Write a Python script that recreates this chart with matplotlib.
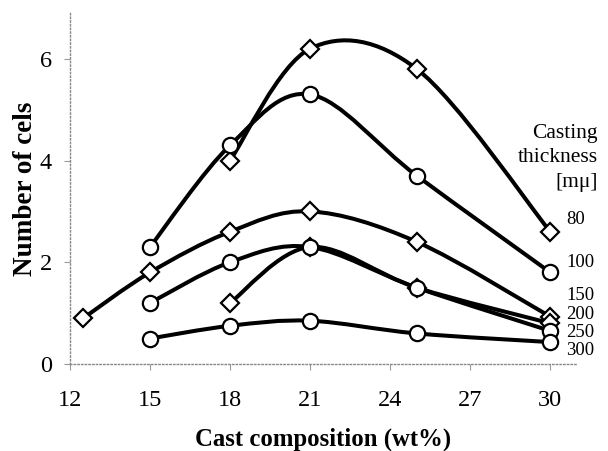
import matplotlib
matplotlib.use("Agg")

import matplotlib.pyplot as plt
import numpy as np
from matplotlib.path import Path
from matplotlib.patches import PathPatch

# Cast composition (wt%) and number of cells, one series per casting thickness
x_80 = [18, 21, 25, 30]
y_80 = [4.0, 6.2, 5.8, 2.6]
x_100 = [15, 18, 21, 25, 30]
y_100 = [2.3, 4.3, 5.3, 3.7, 1.8]
x_150 = [12.5, 15, 18, 21, 25, 30]
y_150 = [0.9, 1.8, 2.6, 3.0, 2.4, 0.93]
x_200 = [15, 18, 21, 25, 30]
y_200 = [1.2, 2.0, 2.3, 1.5, 0.65]
x_250 = [18, 21, 25, 30]
y_250 = [1.2, 2.3, 1.5, 0.8]
x_300 = [15, 18, 21, 25, 30]
y_300 = [0.5, 0.75, 0.85, 0.6, 0.43]

series = [
    (x_80, y_80, "D"),
    (x_100, y_100, "o"),
    (x_150, y_150, "D"),
    (x_200, y_200, "o"),
    (x_250, y_250, "D"),
    (x_300, y_300, "o"),
]
thickness_labels = ["80", "100", "150", "200", "250", "300"]
label_y = [2.85, 2.0, 1.35, 0.98, 0.62, 0.27]

plt.rcParams["font.family"] = ["Liberation Serif", "DejaVu Serif"]


def smooth_path(xs, ys):
    """Excel-like smoothed line: cubic Bezier through the points."""
    pts = np.column_stack([xs, ys]).astype(float)
    n = len(pts)
    verts = [pts[0]]
    codes = [Path.MOVETO]
    for i in range(n - 1):
        p0 = pts[i - 1] if i > 0 else pts[i]
        p1 = pts[i]
        p2 = pts[i + 1]
        p3 = pts[i + 2] if i + 2 < n else pts[i + 1]
        verts += [p1 + (p2 - p0) / 6, p2 - (p3 - p1) / 6, p2]
        codes += [Path.CURVE4] * 3
    return Path(verts, codes)


fig = plt.figure(figsize=(6.08, 4.51), dpi=100)
ax = fig.add_axes([0.115, 0.193, 0.834, 0.778])

for xs, ys, m in series:
    ax.add_patch(PathPatch(smooth_path(xs, ys), fc="none", ec="black",
                           lw=2.9, zorder=2, capstyle="round"))
    if m == "o":
        ax.plot(xs, ys, ls="none", marker="o", ms=11, mfc="white", mec="black",
                mew=1.6, zorder=4)
    else:
        ax.plot(xs, ys, ls="none", marker="D", ms=9.5, mfc="white", mec="black",
                mew=1.6, zorder=3)

ax.set_xlim(12, 31)
ax.set_ylim(0, 6.9)
ax.set_xticks([12, 15, 18, 21, 24, 27, 30])
ax.set_yticks([0, 2, 4, 6])
ax.tick_params(labelsize=17.5, color="#999999", length=4, width=0.8)
ax.tick_params(axis="x", pad=15)
ax.tick_params(axis="y", pad=9)

for side in ["top", "right"]:
    ax.spines[side].set_visible(False)
for side in ["left", "bottom"]:
    ax.spines[side].set_linestyle(":")
    ax.spines[side].set_color("#888888")
    ax.spines[side].set_linewidth(1.0)

ax.set_xlabel("Cast composition (wt%)", fontsize=17.8, fontweight="bold", labelpad=12)
ax.set_ylabel("Number of cels", fontsize=19.5, fontweight="bold", labelpad=1)

ax.text(0.983, 0.650, "Casting\nthickness\n[m\u03bc]", transform=fig.transFigure,
        ha="right", va="center", fontsize=15.5, linespacing=1.4)
for lab, yy in zip(thickness_labels, label_y):
    ax.text(30.6, yy, lab, ha="left", va="center", fontsize=13.5, clip_on=False)

fig.savefig("out.png", dpi=100)
